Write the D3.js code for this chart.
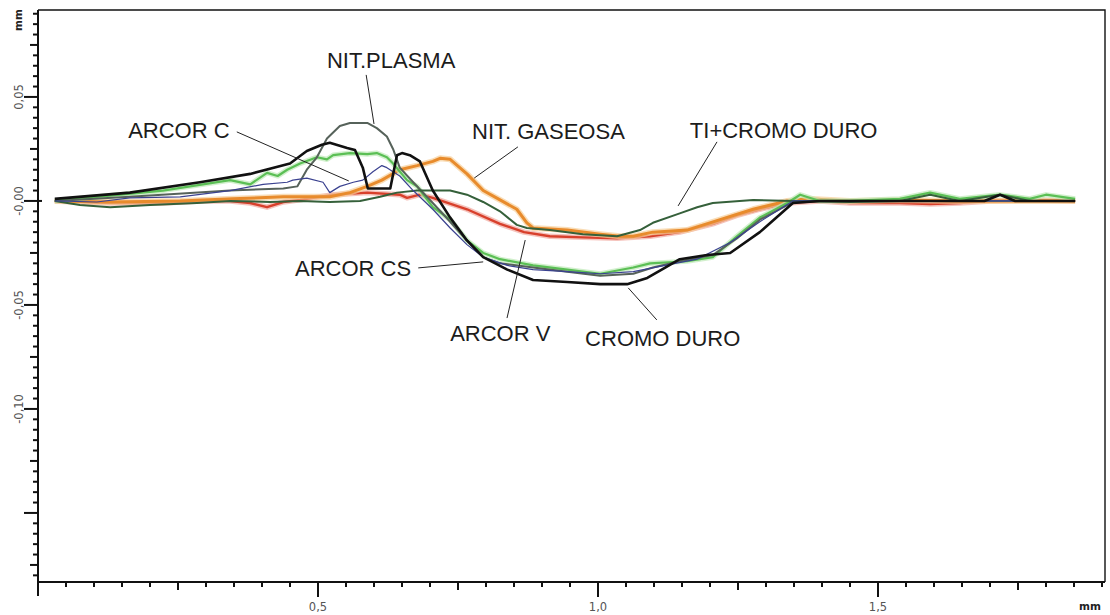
<!DOCTYPE html>
<html lang="es">
<head>
<meta charset="UTF-8"/>
<title>Perfiles de desgaste</title>
<script src="https://cdn.jsdelivr.net/npm/d3@7"></script>
<style>
    html, body { margin: 0; background: #fff; }
    svg { display: block; }
    .lbl { font-family: "Liberation Sans", Arial, sans-serif; font-size: 22px; fill: #1c1c1c; }
    .tick-lbl { font-family: "DejaVu Sans", Verdana, sans-serif; font-size: 11.5px; fill: #555; }
    .unit { font-family: "DejaVu Sans", Verdana, sans-serif; font-size: 10.5px; font-weight: bold; fill: #222; }
</style>
</head>
<body>
<div id="chart"></div>
<script>
    // profile readings, x in mm along the trace, depth in mm
    const cromoDuroX = [0.030, 0.164, 0.289, 0.379, 0.450, 0.480, 0.507, 0.521, 0.552, 0.566, 0.580, 0.589, 0.611, 0.629, 0.641, 0.650, 0.664, 0.682, 0.705, 0.736, 0.766, 0.795, 0.838, 0.884, 0.945, 1.004, 1.052, 1.088, 1.120, 1.146, 1.195, 1.236, 1.289, 1.348, 1.396, 1.539, 1.690, 1.718, 1.745, 1.852]
    const cromoDuroY = [0.001, 0.004, 0.009, 0.013, 0.018, 0.024, 0.027, 0.028, 0.0255, 0.0245, 0.016, 0.006, 0.006, 0.006, 0.022, 0.023, 0.022, 0.019, 0.005, -0.008, -0.019, -0.027, -0.033, -0.038, -0.039, -0.040, -0.040, -0.037, -0.032, -0.028, -0.026, -0.025, -0.015, -0.001, 0.000, 0.000, 0.000, 0.003, 0.000, 0.000]

    const plasmaX = [0.030, 0.164, 0.343, 0.438, 0.463, 0.480, 0.498, 0.516, 0.539, 0.557, 0.588, 0.605, 0.623, 0.634, 0.646, 0.670, 0.705, 0.736, 0.766, 0.795, 0.825, 0.884, 0.945, 1.004, 1.063, 1.098, 1.146, 1.205, 1.248, 1.289, 1.338, 1.361, 1.500, 1.852]
    const plasmaY = [0.000, 0.002, 0.005, 0.006, 0.007, 0.015, 0.021, 0.030, 0.036, 0.0375, 0.0375, 0.035, 0.031, 0.025, 0.016, 0.009, -0.001, -0.010, -0.019, -0.027, -0.030, -0.032, -0.034, -0.036, -0.035, -0.032, -0.029, -0.026, -0.018, -0.009, -0.002, 0.000, 0.000, 0.000]

    const arcorCX = [0.030, 0.105, 0.164, 0.254, 0.343, 0.402, 0.445, 0.455, 0.480, 0.509, 0.521, 0.539, 0.563, 0.580, 0.598, 0.614, 0.623, 0.646, 0.670, 0.705, 0.736, 0.766, 0.795, 0.838, 0.884, 0.945, 1.004, 1.063, 1.120, 1.177, 1.236, 1.289, 1.348, 1.500, 1.852]
    const arcorCY = [0.000, -0.0005, 0.0015, 0.002, 0.005, 0.008, 0.009, 0.010, 0.011, 0.009, 0.004, 0.007, 0.009, 0.010, 0.014, 0.017, 0.016, 0.012, 0.005, -0.004, -0.013, -0.021, -0.027, -0.031, -0.033, -0.034, -0.035, -0.034, -0.031, -0.028, -0.020, -0.010, 0.000, 0.000, 0.000]

    const gaseosaX = [0.030, 0.129, 0.254, 0.348, 0.438, 0.521, 0.557, 0.588, 0.614, 0.646, 0.677, 0.705, 0.718, 0.736, 0.766, 0.795, 0.825, 0.855, 0.873, 0.884, 0.945, 1.004, 1.039, 1.063, 1.098, 1.159, 1.218, 1.277, 1.338, 1.373, 1.450, 1.539, 1.646, 1.718, 1.771, 1.852]
    const gaseosaY = [0.000, -0.0005, 0.000, 0.001, 0.002, 0.002, 0.004, 0.007, 0.010, 0.015, 0.017, 0.019, 0.0205, 0.020, 0.013, 0.005, 0.0005, -0.004, -0.0105, -0.013, -0.014, -0.016, -0.017, -0.017, -0.015, -0.014, -0.009, -0.004, 0.000, 0.001, 0.000, 0.0005, 0.000, 0.000, 0.000, 0.000]

    const arcorVX = [0.030, 0.129, 0.223, 0.289, 0.343, 0.379, 0.409, 0.438, 0.468, 0.527, 0.588, 0.646, 0.659, 0.682, 0.705, 0.766, 0.825, 0.868, 0.914, 0.973, 1.034, 1.093, 1.146, 1.205, 1.248, 1.289, 1.338, 1.396, 1.450, 1.539, 1.593, 1.646, 1.700, 1.771, 1.852]
    const arcorVY = [0.000, -0.001, -0.001, 0.000, 0.000, -0.001, -0.003, -0.0005, 0.0005, 0.003, 0.004, 0.003, 0.0015, 0.003, 0.0015, -0.004, -0.011, -0.015, -0.017, -0.0175, -0.018, -0.017, -0.015, -0.011, -0.007, -0.004, -0.001, 0.000, -0.001, -0.001, -0.0015, -0.001, 0.000, 0.0005, 0.000]

    const tiCromoX = [0.030, 0.075, 0.129, 0.200, 0.284, 0.343, 0.414, 0.468, 0.521, 0.575, 0.611, 0.641, 0.677, 0.705, 0.736, 0.766, 0.795, 0.825, 0.855, 0.873, 0.914, 0.973, 1.034, 1.075, 1.098, 1.146, 1.177, 1.205, 1.277, 1.348, 1.450, 1.539, 1.593, 1.646, 1.718, 1.771, 1.852]
    const tiCromoY = [0.000, -0.002, -0.003, -0.002, -0.001, 0.000, -0.0005, 0.000, -0.0005, 0.000, 0.002, 0.004, 0.005, 0.005, 0.005, 0.003, -0.0005, -0.005, -0.0115, -0.013, -0.014, -0.016, -0.017, -0.014, -0.0105, -0.006, -0.003, -0.001, 0.0005, 0.000, -0.0005, 0.000, 0.003, 0.000, 0.003, 0.000, 0.000]

    const arcorCSX = [0.030, 0.105, 0.223, 0.343, 0.379, 0.409, 0.428, 0.445, 0.468, 0.498, 0.516, 0.527, 0.557, 0.588, 0.605, 0.623, 0.634, 0.659, 0.677, 0.705, 0.736, 0.766, 0.795, 0.825, 0.884, 0.945, 1.004, 1.063, 1.093, 1.159, 1.205, 1.248, 1.289, 1.338, 1.361, 1.396, 1.450, 1.539, 1.593, 1.646, 1.718, 1.771, 1.800, 1.852]
    const arcorCSY = [0.000, 0.002, 0.005, 0.010, 0.008, 0.0135, 0.012, 0.015, 0.018, 0.021, 0.020, 0.022, 0.023, 0.0225, 0.023, 0.021, 0.018, 0.010, 0.007, -0.003, -0.009, -0.019, -0.025, -0.028, -0.031, -0.033, -0.035, -0.032, -0.030, -0.029, -0.027, -0.017, -0.008, -0.001, 0.003, 0.000, 0.000, 0.001, 0.004, 0.001, 0.003, 0.001, 0.003, 0.001]

    const seriesNames = ['ARCOR V', 'NIT. GASEOSA', 'ARCOR CS', 'NIT.PLASMA', 'TI+CROMO DURO', 'ARCOR C', 'CROMO DURO']
    const seriesX = [arcorVX, gaseosaX, arcorCSX, plasmaX, tiCromoX, arcorCX, cromoDuroX]
    const seriesY = [arcorVY, gaseosaY, arcorCSY, plasmaY, tiCromoY, arcorCY, cromoDuroY]

    const xTickLabels = ['0,5', '1,0', '1,5']
    const xTickValues = [0.5, 1.0, 1.5]
    const yTickLabels = ['0,05', '-0,00', '-0,05', '-0,10']
    const yTickValues = [0.05, 0.00, -0.05, -0.10]

    const styles = {
        'ARCOR V': {color: '#d8402c', width: 2.4, halo: '#f1aaa0'},
        'NIT. GASEOSA': {color: '#e88b2c', width: 3, halo: '#f7cf98'},
        'ARCOR CS': {color: '#5bbf55', width: 2.2, halo: '#bfe9b8'},
        'NIT.PLASMA': {color: '#56625a', width: 2, halo: null},
        'TI+CROMO DURO': {color: '#35603a', width: 2, halo: null},
        'ARCOR C': {color: '#3b4290', width: 1.2, halo: null},
        'CROMO DURO': {color: '#111111', width: 2.6, halo: null}
    }

    // annotation anchors in data units: text start, leader from -> to
    const notes = [
        {text: 'NIT.PLASMA', x: 0.516, y: 0.064, from: [0.586, 0.0606], to: [0.600, 0.037]},
        {text: 'ARCOR C', x: 0.161, y: 0.0303, from: [0.355, 0.0332], to: [0.555, 0.0096]},
        {text: 'NIT. GASEOSA', x: 0.775, y: 0.0298, from: [0.857, 0.026], to: [0.779, 0.011]},
        {text: 'TI+CROMO DURO', x: 1.164, y: 0.0303, from: [1.2125, 0.0284], to: [1.143, -0.0024]},
        {text: 'ARCOR CS', x: 0.459, y: -0.036, from: [0.679, -0.0322], to: [0.795, -0.0293]},
        {text: 'ARCOR V', x: 0.736, y: -0.0673, from: [0.8375, -0.0563], to: [0.870, -0.0188]},
        {text: 'CROMO DURO', x: 0.977, y: -0.0697, from: [1.105, -0.0572], to: [1.054, -0.0418]}
    ]

    const width = 1110, height = 615
    const plotLeft = 38, plotRight = 1105, plotTop = 10, plotBottom = 582

    const x = d3.scaleLinear().domain([0, (plotRight - plotLeft) / 560]).range([plotLeft, plotRight])
    const y = d3.scaleLinear().domain([-0.1832, 0.0918]).range([plotBottom, plotTop])

    const svg = d3.select('#chart').append('svg')
        .attr('width', width)
        .attr('height', height)

    // frame
    svg.append('path')
        .attr('d', `M${plotLeft},${plotTop}H${plotRight}V${plotBottom}`)
        .attr('fill', 'none')
        .attr('stroke', '#111')
        .attr('stroke-width', 1.4)

    const line = d3.line().x(d => x(d[0])).y(d => y(d[1]))

    seriesNames.forEach((name, i) => {
        const pts = seriesX[i].map((v, j) => [v, seriesY[i][j]])
        const st = styles[name]
        if (st.halo) {
            svg.append('path')
                .datum(pts)
                .attr('d', line)
                .attr('fill', 'none')
                .attr('stroke', st.halo)
                .attr('stroke-width', st.width + 3)
                .attr('stroke-opacity', 0.7)
                .attr('stroke-linejoin', 'round')
        }
        svg.append('path')
            .datum(pts)
            .attr('d', line)
            .attr('fill', 'none')
            .attr('stroke', st.color)
            .attr('stroke-width', st.width)
            .attr('stroke-linejoin', 'round')
    })

    // x axis ticks, every 0.05 mm
    const xMinor = d3.range(0, 39).map(k => k * 0.05)
    const xg = svg.append('g').attr('transform', `translate(0,${plotBottom})`)
    xg.append('line').attr('x1', plotLeft).attr('x2', plotRight).attr('stroke', '#111').attr('stroke-width', 2)
    xg.selectAll('line.t').data(xMinor).join('line')
        .attr('class', 't')
        .attr('x1', d => x(d)).attr('x2', d => x(d))
        .attr('y1', 0)
        .attr('y2', (d, k) => k === 0 ? 14 : k % 10 === 0 ? 15 : k % 5 === 0 ? 8 : 5)
        .attr('stroke', '#111').attr('stroke-width', 2)
    xg.selectAll('text').data(xTickValues).join('text')
        .attr('class', 'tick-lbl')
        .attr('x', d => x(d)).attr('y', 29)
        .attr('text-anchor', 'middle')
        .text((d, k) => xTickLabels[k])
    svg.append('text').attr('class', 'unit')
        .attr('x', 1101).attr('y', 610).attr('text-anchor', 'end')
        .text('mm')

    // y axis ticks, every 0.005 mm
    const yMinor = d3.range(-36, 19).map(k => k * 0.005)
    const yg = svg.append('g').attr('transform', `translate(${plotLeft},0)`)
    yg.append('line').attr('y1', plotTop).attr('y2', plotBottom + 13).attr('stroke', '#111').attr('stroke-width', 2)
    yg.selectAll('line.t').data(yMinor).join('line')
        .attr('class', 't')
        .attr('y1', d => y(d)).attr('y2', d => y(d))
        .attr('x1', d => {
            const k = Math.round(d / 0.005)
            return k % 10 === 0 ? -14 : k % 5 === 0 ? -8 : -5
        })
        .attr('x2', d => Math.abs(d) < 1e-9 ? 4 : 0)
        .attr('stroke', '#111').attr('stroke-width', 2)
    yg.append('line').attr('x1', 0).attr('x2', 5).attr('y1', plotBottom).attr('y2', plotBottom)
        .attr('stroke', '#111').attr('stroke-width', 2)
    svg.selectAll('text.ylab').data(yTickValues).join('text')
        .attr('class', 'tick-lbl ylab')
        .attr('transform', d => `translate(23,${y(d)}) rotate(-90)`)
        .attr('text-anchor', 'middle')
        .text((d, k) => yTickLabels[k])
    svg.append('text').attr('class', 'unit')
        .attr('transform', 'translate(22,20) rotate(-90)')
        .attr('text-anchor', 'middle')
        .text('mm')

    // labels and leaders
    svg.selectAll('line.leader').data(notes).join('line')
        .attr('class', 'leader')
        .attr('x1', d => x(d.from[0])).attr('y1', d => y(d.from[1]))
        .attr('x2', d => x(d.to[0])).attr('y2', d => y(d.to[1]))
        .attr('stroke', '#222').attr('stroke-width', 1)
    svg.selectAll('text.lbl').data(notes).join('text')
        .attr('class', 'lbl')
        .attr('x', d => x(d.x)).attr('y', d => y(d.y))
        .text(d => d.text)
</script>
</body>
</html>
